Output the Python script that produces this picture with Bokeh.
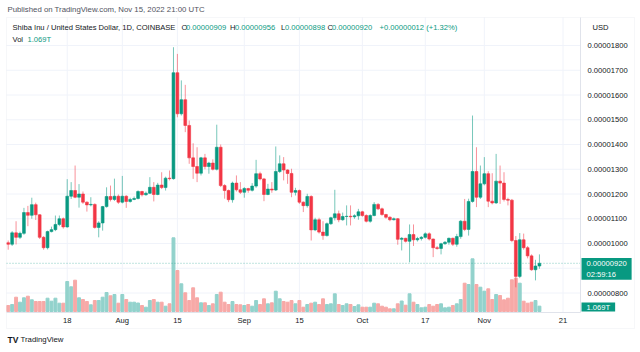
import numpy as np
import pandas as pd
from bokeh.plotting import figure
from bokeh.models import (ColumnDataSource, Range1d, FixedTicker, CustomJSTickFormatter,
                          Label, PolyAnnotation)
from bokeh.embed import file_html
from bokeh.resources import INLINE

# ---------------- data (prices in 1e-8 USD, volume in trillions) ----------------
start_date = "2022-07-03"
end_date = "2022-11-15"

opens = [1003, 997, 1043, 1025, 1041, 1125, 1114, 1157, 1116, 1025,
         983, 1048, 1056, 1077, 1100, 1067, 1191, 1214, 1187, 1200,
         1167, 1156, 1158, 1065, 1083, 1149, 1190, 1178, 1191, 1167,
         1191, 1170, 1178, 1182, 1210, 1197, 1203, 1227, 1198, 1236,
         1226, 1264, 1262, 1690, 1524, 1581, 1477, 1346, 1311, 1284,
         1346, 1311, 1325, 1300, 1389, 1234, 1214, 1177, 1244, 1217,
         1207, 1222, 1215, 1232, 1282, 1261, 1198, 1220, 1216, 1291,
         1322, 1297, 1283, 1207, 1214, 1167, 1153, 1190, 1055, 1096,
         1046, 1032, 1080, 1104, 1120, 1096, 1109, 1110, 1108, 1112,
         1128, 1113, 1090, 1113, 1158, 1140, 1117, 1106, 1096, 1100,
         1017, 1021, 1009, 1036, 1015, 1020, 1025, 1039, 1018, 983,
         980, 999, 1005, 1021, 997, 1028, 1090, 1057, 1170, 1291,
         1187, 1241, 1282, 1171, 1164, 1252, 1244, 1178, 1175, 1012,
         867, 1015, 983, 950, 894, 909]
highs = [1012, 1050, 1090, 1048, 1144, 1152, 1185, 1165, 1118, 1030,
         1052, 1068, 1113, 1113, 1105, 1260, 1248, 1315, 1240, 1210,
         1170, 1187, 1162, 1090, 1152, 1227, 1234, 1262, 1198, 1273,
         1195, 1185, 1190, 1215, 1213, 1210, 1268, 1248, 1245, 1288,
         1270, 1295, 1793, 1766, 1659, 1641, 1497, 1405, 1389, 1350,
         1362, 1330, 1340, 1480, 1400, 1240, 1218, 1250, 1275, 1248,
         1228, 1225, 1244, 1338, 1290, 1265, 1241, 1248, 1392, 1356,
         1349, 1300, 1302, 1225, 1218, 1170, 1201, 1195, 1104, 1104,
         1090, 1085, 1108, 1217, 1133, 1125, 1154, 1154, 1118, 1140,
         1132, 1118, 1118, 1167, 1163, 1145, 1120, 1110, 1105, 1103,
         1026, 1023, 1077, 1077, 1027, 1030, 1045, 1045, 1020, 990,
         1003, 1010, 1024, 1024, 1039, 1095, 1180, 1181, 1517, 1389,
         1315, 1349, 1292, 1284, 1362, 1315, 1288, 1185, 1180, 1030,
         1042, 1040, 990, 956, 934, 956]
lows = [975, 990, 996, 1018, 1035, 1070, 1100, 1095, 1018, 975,
        976, 1045, 1050, 1070, 1060, 1064, 1180, 1183, 1145, 1160,
        1129, 1150, 1060, 1025, 1052, 1145, 1170, 1172, 1160, 1162,
        1144, 1165, 1175, 1178, 1190, 1193, 1200, 1170, 1195, 1220,
        1214, 1255, 1258, 1510, 1517, 1450, 1322, 1261, 1248, 1275,
        1300, 1282, 1295, 1295, 1228, 1181, 1167, 1165, 1210, 1200,
        1185, 1205, 1210, 1225, 1255, 1171, 1195, 1205, 1212, 1285,
        1255, 1241, 1187, 1194, 1160, 1127, 1145, 1012, 1050, 1040,
        1015, 1028, 1075, 1093, 1086, 1092, 1073, 1073, 1100, 1096,
        1108, 1085, 1084, 1110, 1135, 1112, 1100, 1090, 1093, 995,
        972, 1004, 924, 990, 1008, 1012, 1020, 1012, 945, 975,
        956, 995, 995, 990, 987, 1019, 1050, 1032, 1165, 1147,
        1180, 1235, 1147, 1158, 1160, 1160, 1170, 1154, 1005, 823,
        860, 975, 940, 890, 851, 898]
closes = [997, 1043, 1025, 1041, 1125, 1114, 1157, 1116, 1025, 983,
          1048, 1056, 1077, 1100, 1067, 1191, 1214, 1187, 1200, 1167,
          1156, 1158, 1065, 1083, 1149, 1190, 1178, 1191, 1167, 1191,
          1170, 1178, 1182, 1210, 1197, 1203, 1227, 1198, 1236, 1226,
          1264, 1262, 1690, 1524, 1581, 1477, 1346, 1311, 1284, 1346,
          1311, 1325, 1300, 1389, 1234, 1214, 1177, 1244, 1217, 1207,
          1222, 1215, 1232, 1282, 1261, 1198, 1220, 1216, 1291, 1322,
          1297, 1283, 1207, 1214, 1167, 1153, 1190, 1055, 1096, 1046,
          1032, 1080, 1104, 1120, 1096, 1109, 1110, 1108, 1112, 1128,
          1113, 1090, 1113, 1158, 1140, 1117, 1106, 1096, 1100, 1017,
          1021, 1009, 1036, 1015, 1020, 1025, 1039, 1018, 983, 980,
          999, 1005, 1021, 997, 1028, 1090, 1057, 1170, 1291, 1187,
          1241, 1282, 1171, 1164, 1252, 1244, 1178, 1175, 1012, 867,
          1015, 983, 950, 894, 909, 920]
volume_t = [1.20, 1.40, 2.86, 1.86, 2.74, 3.06, 2.34, 2.00, 2.00, 2.00,
            2.66, 2.06, 2.66, 1.66, 1.66, 6.00, 4.94, 6.26, 2.74, 2.40,
            2.00, 1.34, 2.20, 2.20, 2.86, 3.80, 3.14, 3.40, 1.66, 3.40,
            2.40, 1.86, 1.86, 1.70, 1.20, 0.86, 2.20, 2.40, 1.86, 1.86,
            1.06, 1.54, 14.74, 8.20, 5.54, 3.74, 2.20, 4.74, 2.74, 1.74,
            1.74, 1.20, 1.54, 3.40, 3.86, 1.86, 1.40, 2.00, 1.40, 1.34,
            1.20, 1.40, 1.06, 2.20, 1.40, 2.54, 1.54, 1.74, 4.06, 2.54,
            2.00, 1.86, 2.20, 1.54, 2.20, 0.86, 1.40, 1.66, 1.86, 1.40,
            2.54, 1.40, 1.54, 3.54, 1.40, 1.20, 1.54, 1.40, 1.00, 1.34,
            0.86, 0.86, 0.86, 1.66, 1.54, 1.06, 0.86, 0.54, 0.54, 1.54,
            2.10, 1.26, 3.54, 1.86, 1.40, 0.74, 0.86, 1.40, 1.06, 1.40,
            1.54, 0.74, 0.86, 1.20, 1.54, 2.40, 5.66, 5.40, 10.54, 5.40,
            4.86, 4.06, 4.54, 2.40, 3.40, 3.20, 2.34, 2.66, 6.34, 6.66,
            5.66, 2.06, 1.66, 1.86, 2.20, 1.069]

price_label_ticks = [800, 1000, 1100, 1200, 1300, 1400, 1500, 1600, 1700, 1800]
price_grid_ticks = [800, 900, 1000, 1100, 1200, 1300, 1400, 1500, 1600, 1700, 1800]
last_price = 920
time_tick_dates = ["2022-07-18", "2022-08-01", "2022-08-15", "2022-09-01", "2022-09-15",
                   "2022-10-01", "2022-10-17", "2022-11-01", "2022-11-21"]
time_tick_labels = ["18", "Aug", "15", "Sep", "15", "Oct", "17", "Nov", "21"]

# ---------------- layout constants (pixels) ----------------
UNIT = 1e-8
DAY = 86400000
GREEN = "#089981"
RED = "#f23645"
TEXT = "#131722"
BORDER = "#e0e3eb"
GRID = "#f0f3fa"
FONT = "Liberation Sans"
FS = "7.6px"
W, H = 640, 352
PANE_L, PANE_R, PANE_T, PANE_B = 6, 580, 17, 312
BOX_R, BOX_B = 634, 328
X_FIRST, PX_PER_DAY = 7.7, 3.935       # canvas x of first candle, px per day
Y_REF, PX_PER_UNIT = 243.0, 0.2475     # canvas y of price 1000e-8, px per 1e-8
VOL_BASE_Y, VOL_PER_PX = 311.0, 0.2

dates = pd.date_range(start_date, end_date, freq="D")
t0 = dates[0].value // 10**6


def xdata(cx):
    return t0 + (cx - X_FIRST) / PX_PER_DAY * DAY


def ydata(cy):
    return (1000 + (Y_REF - cy) / PX_PER_UNIT) * UNIT


o = np.array(opens) * UNIT
h = np.array(highs) * UNIT
l = np.array(lows) * UNIT
c = np.array(closes) * UNIT
up = c >= o
src = ColumnDataSource(dict(
    date=dates, high=h, low=l,
    top=np.maximum(o, c), bottom=np.minimum(o, c),
    color=[GREEN if u else RED for u in up],
    vcolor=["#92d2cc" if u else "#f7a9a7" for u in up],
    vol=volume_t,
))

p = figure(width=W, height=H, output_backend="svg", toolbar_location=None,
           x_axis_type="datetime", y_axis_location="right",
           x_range=Range1d(xdata(0), xdata(W)),
           y_range=Range1d(ydata(H), ydata(0)))
p.min_border = 0
p.min_border_left = p.min_border_right = p.min_border_top = p.min_border_bottom = 0
p.background_fill_color = "white"
p.border_fill_color = "white"
p.outline_line_color = None
p.xgrid.visible = False
p.ygrid.visible = False
p.extra_y_ranges = {"vol": Range1d(-(H - VOL_BASE_Y) * VOL_PER_PX, VOL_BASE_Y * VOL_PER_PX)}

tick_ms = [pd.Timestamp(d).value // 10**6 for d in time_tick_dates]
p.xaxis.ticker = FixedTicker(ticks=tick_ms)
p.xaxis.formatter = CustomJSTickFormatter(args=dict(tvals=tick_ms, tnames=time_tick_labels), code="""
for (let i = 0; i < tvals.length; i++) { if (Math.abs(tvals[i] - tick) < 1000) return tnames[i]; }
return "";
""")
p.yaxis.ticker = FixedTicker(ticks=[v * UNIT for v in price_label_ticks])
p.yaxis.formatter = CustomJSTickFormatter(code="return tick.toFixed(8);")
p.xaxis.fixed_location = ydata(PANE_B)
p.xaxis.bounds = (xdata(PANE_L), xdata(PANE_R))
p.yaxis.fixed_location = xdata(PANE_R)
p.yaxis.bounds = (ydata(PANE_B), ydata(PANE_T))
for ax in (p.xaxis[0], p.yaxis[0]):
    ax.major_tick_in = 0
    ax.major_tick_out = 0
    ax.minor_tick_in = 0
    ax.minor_tick_out = 0
    ax.axis_line_color = BORDER
    ax.major_label_text_font = FONT
    ax.major_label_text_font_size = FS
    ax.major_label_text_color = TEXT
p.xaxis.major_label_standoff = 3
p.yaxis.major_label_standoff = 7

# grid lines (restricted to the chart pane)
gx = [v * UNIT for v in price_grid_ticks]
p.segment(x0=[xdata(PANE_L)] * len(gx), x1=[xdata(PANE_R)] * len(gx), y0=gx, y1=gx,
          line_color=GRID, line_width=1)
p.segment(x0=tick_ms, x1=tick_ms, y0=[ydata(PANE_B)] * len(tick_ms),
          y1=[ydata(PANE_T)] * len(tick_ms), line_color=GRID, line_width=1)

# volume
p.vbar(x="date", top="vol", bottom=0, width=0.74 * DAY, color="vcolor",
       y_range_name="vol", source=src)
# last price dotted line
p.segment(x0=[xdata(PANE_L)], x1=[xdata(PANE_R)], y0=[last_price * UNIT], y1=[last_price * UNIT],
          line_color=GREEN, line_alpha=0.5, line_dash="1 2", line_width=1)
# candles
p.segment(x0="date", y0="low", x1="date", y1="high", line_color="color",
          line_alpha=0.55, line_width=1, source=src)
p.vbar(x="date", top="top", bottom="bottom", width=0.72 * DAY, fill_color="color",
       line_color="color", line_width=0.6, source=src)

# outer box
p.add_layout(PolyAnnotation(xs=[PANE_L, BOX_R, BOX_R, PANE_L],
                            ys=[H - PANE_T, H - PANE_T, H - BOX_B, H - BOX_B],
                            xs_units="screen", ys_units="screen", fill_alpha=0,
                            line_color=BORDER, line_width=1))


def add_text(cx, cy, text, color=TEXT, size=FS, style="normal", **kw):
    p.add_layout(Label(x=cx, y=H - cy, x_units="screen", y_units="screen", text=text,
                       text_color=color, text_font_size=size, text_font=FONT,
                       text_align="left", text_baseline="middle", text_font_style=style, **kw))


add_text(7, 9, "Published on TradingView.com, Nov 15, 2022 21:00 UTC", color="#50535e", size="7.8px")
add_text(12, 26.5, "Shiba Inu / United States Dollar, 1D, COINBASE")
add_text(181, 26.5, "O")
add_text(185.5, 26.5, "0.00000909", color=GREEN)
add_text(229.5, 26.5, "H")
add_text(234.5, 26.5, "0.00000956", color=GREEN)
add_text(280.5, 26.5, "L")
add_text(284.5, 26.5, "0.00000898", color=GREEN)
add_text(327, 26.5, "C")
add_text(331.5, 26.5, "0.00000920", color=GREEN)
add_text(379, 26.5, "+0.00000012 (+1.32%)", color=GREEN)
add_text(12, 39, "Vol")
add_text(27, 39, "1.069T", color=GREEN)
add_text(592, 26.5, "USD")
add_text(7, 339, "TV", style="bold", size="8.5px")
add_text(20, 339, "TradingView", size="7.8px")

# price tag and volume tag
p.add_layout(Label(x=PANE_R + 1, y=H - 257.5, x_units="screen", y_units="screen",
                   text="0.00000920\n02:59:16", text_color="white", text_font=FONT,
                   text_font_size=FS, text_align="left", text_baseline="top",
                   background_fill_color=GREEN, padding=(5, 1)))
p.add_layout(Label(x=PANE_R + 1, y=H - 306.5, x_units="screen", y_units="screen",
                   text="1.069T", text_color="white", text_font=FONT,
                   text_font_size=FS, text_align="left", text_baseline="middle",
                   background_fill_color=GREEN, padding=(5, 0)))

open("out.html", "w").write(file_html(p, INLINE))
